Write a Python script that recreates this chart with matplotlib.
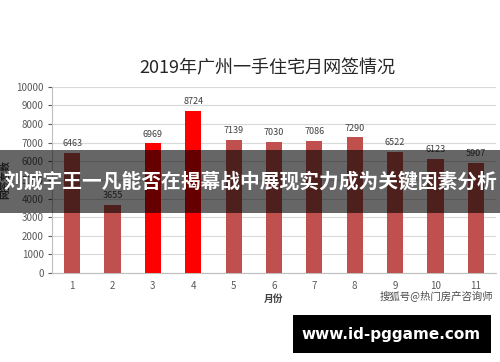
import matplotlib
matplotlib.use('Agg')
import matplotlib.pyplot as plt
from matplotlib.patches import Rectangle

plt.rcParams['font.family'] = ['Noto Sans CJK SC', 'DejaVu Sans']

months = ['1', '2', '3', '4', '5', '6', '7', '8', '9', '10', '11']
sales = [6463, 3655, 6969, 8724, 7139, 7030, 7086, 7290, 6522, 6123, 5907]
highlight = [False, False, True, True, False, False, False, False, False, False, False]

BAR = '#c0504d'
HOT = '#ff0000'
GRID = '#d9d9d9'
TICK = '#595959'

fig = plt.figure(figsize=(5, 3.62), dpi=100)
fig.patch.set_facecolor('white')
ax = fig.add_axes([0.104, 0.246, 0.888, 0.514])

x = list(range(1, len(months) + 1))
colors = [HOT if h else BAR for h in highlight]
ax.bar(x, sales, width=0.4, color=colors, zorder=3)
for xi, v in zip(x, sales):
    ax.text(xi, v + 250, str(v), ha='center', va='bottom', fontsize=6.5, color='#404040')

ax.set_xlim(0.5, 11.5)
ax.set_ylim(0, 10000)
ax.set_yticks(range(0, 10001, 1000))
ax.set_xticks(x)
ax.set_xticklabels(months)
ax.tick_params(axis='y', labelsize=7, colors=TICK, length=3, width=0.8, pad=3)
ax.tick_params(axis='x', labelsize=7, colors=TICK, length=0, pad=6)
ax.grid(axis='y', color=GRID, linewidth=0.8, zorder=0)
for s in ['top', 'right']:
    ax.spines[s].set_visible(False)
ax.spines['left'].set_color('#bfbfbf')
ax.spines['bottom'].set_color('#bfbfbf')

ax.set_xlabel('月份', fontsize=7, fontweight='bold', color='#404040', labelpad=2)
ax.set_ylabel('网签套数', fontsize=7, fontweight='bold', color='#404040', labelpad=4)

fig.text(0.534, 0.812, '2019年广州一手住宅月网签情况', ha='center', va='center',
         fontsize=13, color='#262626')

# overlay banner
fig.patches.append(Rectangle((0, 1 - 212.5 / 362), 1, 62.5 / 362, transform=fig.transFigure,
                             facecolor='black', alpha=0.6, edgecolor='none', zorder=10))
fig.text(0.5, 1 - 181 / 362, '刘诚宇王一凡能否在揭幕战中展现实力成为关键因素分析',
         ha='center', va='center', fontsize=14.2, fontweight='bold', color='white', zorder=11)

# watermark
fig.text(0.872, 1 - 296 / 362, '搜狐号@热门房产咨询师', ha='center', va='center',
         fontsize=7.5, color='#4a4a4a')

# site box
fig.patches.append(Rectangle((293 / 500, 1 - 353 / 362), 198 / 500, 38 / 362,
                             transform=fig.transFigure, facecolor='black',
                             edgecolor='none', zorder=10))
fig.text(391 / 500, 1 - 334 / 362, 'www.id-pggame.com', ha='center', va='center',
         fontsize=11, fontweight='bold', color='white', family='DejaVu Sans', zorder=11)

fig.savefig('out.png', dpi=100, facecolor='white')
